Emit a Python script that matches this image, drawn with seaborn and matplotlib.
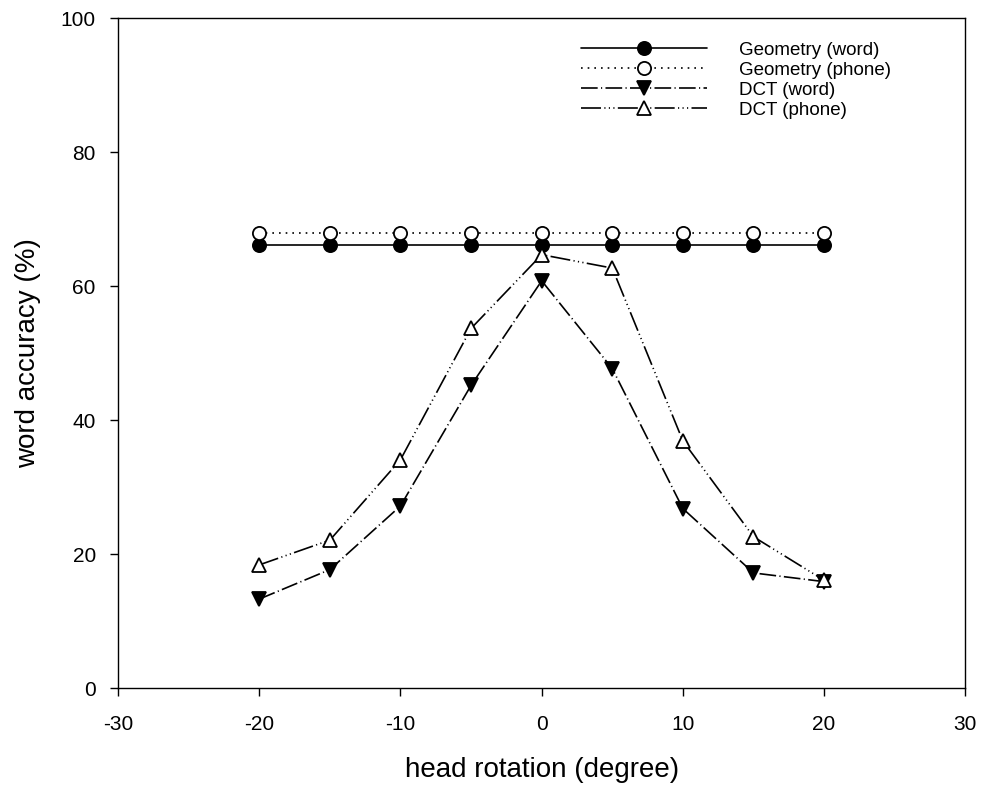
import pandas as pd
import matplotlib.pyplot as plt
import seaborn as sns

rotation = [-20, -15, -10, -5, 0, 5, 10, 15, 20]
geom_word = [66.1, 66.1, 66.1, 66.1, 66.1, 66.1, 66.1, 66.1, 66.1]
geom_phone = [68.0, 68.0, 68.0, 68.0, 68.0, 68.0, 68.0, 68.0, 68.0]
dct_word = [13.3, 17.7, 27.2, 45.2, 60.8, 47.7, 26.8, 17.2, 15.9]
dct_phone = [18.4, 22.1, 34.1, 53.7, 64.7, 62.7, 36.9, 22.6, 16.1]

series_names = ["Geometry (word)", "Geometry (phone)", "DCT (word)", "DCT (phone)"]

sns.set_style("ticks")
plt.rcParams['font.family'] = ['Liberation Sans', 'DejaVu Sans']
plt.rcParams['axes.unicode_minus'] = False
plt.rcParams['text.color'] = 'black'
plt.rcParams['axes.labelcolor'] = 'black'

df = pd.DataFrame({
    "rotation": rotation * 4,
    "acc": geom_word + geom_phone + dct_word + dct_phone,
    "series": sum([[n] * len(rotation) for n in series_names], []),
})

# line style / marker per series
styles = {
    "Geometry (word)": dict(ls="-", marker="o", mfc="black"),
    "Geometry (phone)": dict(ls=(0, (1, 3)), marker="o", mfc="white"),
    "DCT (word)": dict(ls=(0, (10, 2, 0.7, 2)), marker="v", mfc="black"),
    "DCT (phone)": dict(ls=(0, (12, 2, 0.7, 2, 0.7, 2, 0.7, 2)), marker="^", mfc="white"),
}

fig = plt.figure(figsize=(9.84, 7.91), dpi=100)
ax = fig.add_axes([0.12, 0.13, 0.861, 0.847])

for name in series_names:
    st = styles[name]
    sub = df[df["series"] == name]
    sns.lineplot(data=sub, x="rotation", y="acc", ax=ax, color="black",
                 linestyle=st["ls"], linewidth=1.2, marker=st["marker"],
                 markersize=9.5, markerfacecolor=st["mfc"],
                 markeredgecolor="black", markeredgewidth=1.3, label=name)

ax.set_xlim(-30, 30)
ax.set_ylim(0, 100)
ax.set_xticks(range(-30, 31, 10))
ax.set_yticks(range(0, 101, 20))
ax.tick_params(direction="out", length=6, width=1, labelsize=15,
               colors="black", pad=10)
ax.tick_params(axis="x", pad=13)
for s in ax.spines.values():
    s.set_visible(True)
    s.set_color("black")
    s.set_linewidth(1)

ax.set_xlabel("head rotation (degree)", fontsize=20, labelpad=17)
ax.set_ylabel("word accuracy (%)", fontsize=20, labelpad=14)

leg = ax.legend(loc="upper right", frameon=False, fontsize=13.5,
                handlelength=6.7, handletextpad=1.7, labelspacing=0.15,
                bbox_to_anchor=(0.932, 0.99))

fig.savefig("out.png", dpi=100)
